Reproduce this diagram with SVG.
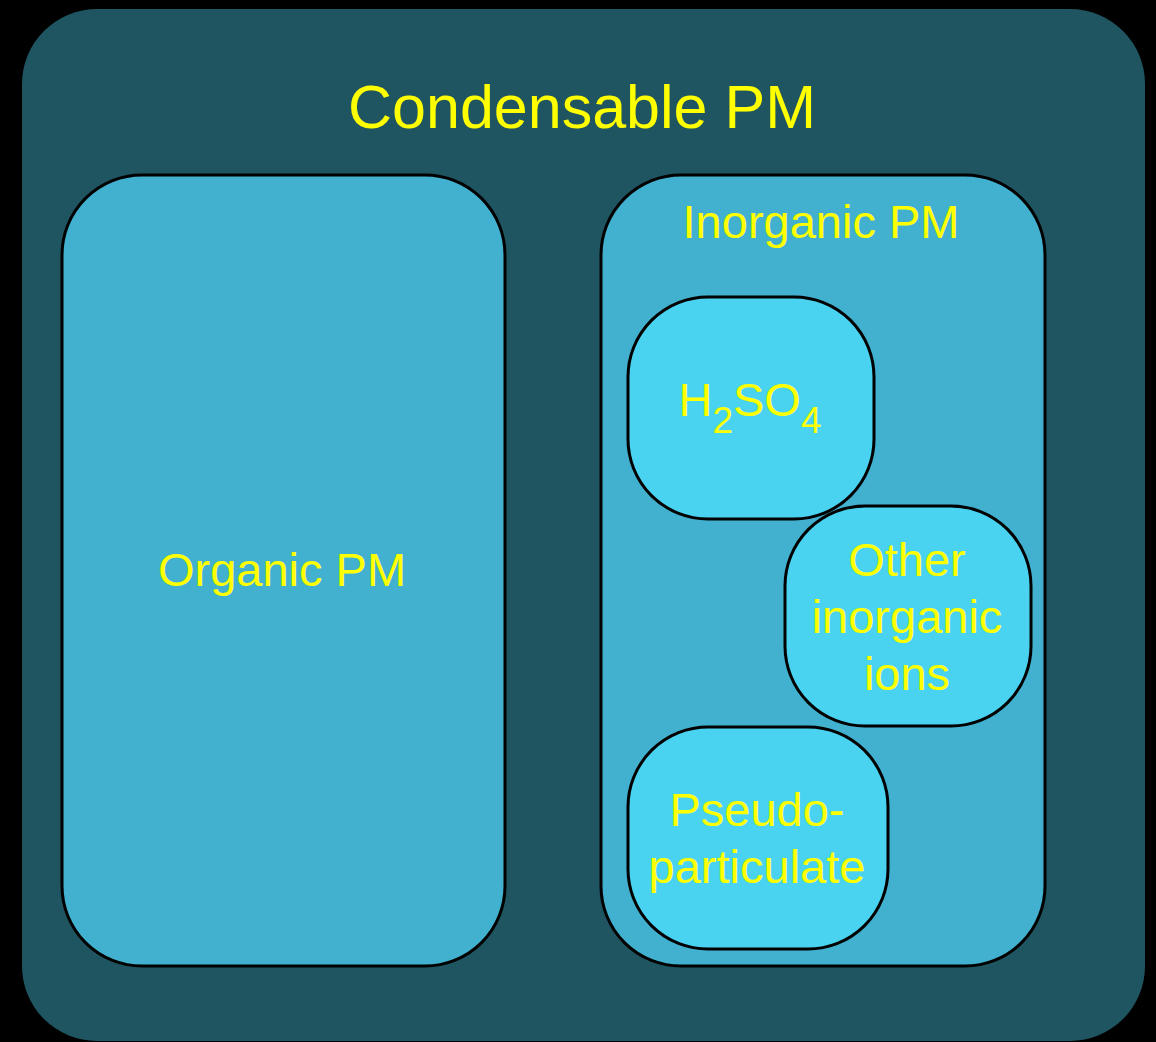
<svg xmlns="http://www.w3.org/2000/svg" width="1156" height="1042" viewBox="0 0 1156 1042">
<style>
.lbl{font-family:"Liberation Sans",Arial,sans-serif;fill:#ffff00;text-anchor:middle;font-size:47px}
.mid{fill:#41b1cf;stroke:#000;stroke-width:3}
.leaf{fill:#49d3f1;stroke:#000;stroke-width:3}
</style>
<rect width="1156" height="1042" fill="#000"/>
<g id="condensable">
<rect x="22" y="9" width="1123" height="1032" rx="75" ry="75" fill="#1f5461"/>
<text class="lbl" x="582" y="128" style="font-size:61px">Condensable PM</text>
</g>
<g id="organic">
<rect class="mid" x="62" y="175" width="443" height="791" rx="80" ry="80"/>
<text class="lbl" x="282" y="586">Organic PM</text>
</g>
<g id="inorganic">
<rect class="mid" x="601" y="175" width="444" height="791" rx="80" ry="80"/>
<text class="lbl" x="821" y="238">Inorganic PM</text>
</g>
<g id="h2so4">
<rect class="leaf" x="628" y="297" width="246" height="222" rx="80" ry="80"/>
<text class="lbl" x="750" y="416">H<tspan dy="17" style="font-size:37px">2</tspan><tspan dy="-17">SO</tspan><tspan dy="17" style="font-size:37px">4</tspan></text>
</g>
<g id="other">
<rect class="leaf" x="785" y="506" width="246" height="220" rx="80" ry="80"/>
<text class="lbl" x="907" y="576">Other</text>
<text class="lbl" x="907" y="633">inorganic</text>
<text class="lbl" x="907" y="690">ions</text>
</g>
<g id="pseudo">
<rect class="leaf" x="628" y="727" width="260" height="222" rx="80" ry="80"/>
<text class="lbl" x="757" y="826">Pseudo-</text>
<text class="lbl" x="757" y="883">particulate</text>
</g>
<g id="connectors"/>
</svg>
